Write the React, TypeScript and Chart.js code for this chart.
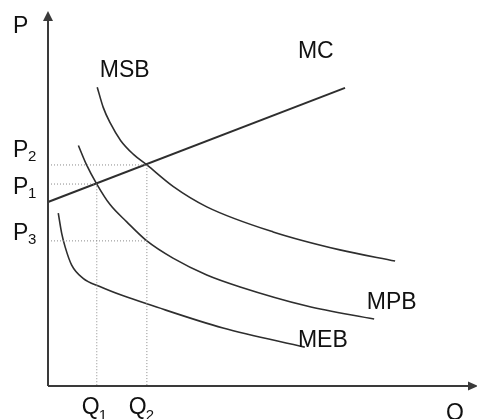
import React, { useEffect, useRef } from "react";
import { Chart, registerables } from "chart.js";

Chart.register(...registerables);

// Quantity (x) and price (y) in chart units (0..100 on both axes)
const MC_Q = [0, 69.4];
const MC_P = [49.2, 79.7];

const MSB_Q = [11.5, 12.9, 14.5, 17.0, 19.9, 23.1, 29.3, 37.1, 52.6, 68.2, 81.1];
const MSB_P = [79.9, 74.5, 70.4, 65.6, 62.0, 59.1, 53.3, 47.9, 41.2, 36.4, 33.4];

const MPB_Q = [7.1, 8.9, 11.4, 14.5, 18.4, 23.1, 29.2, 37.1, 44.9, 60.5, 76.2];
const MPB_P = [64.3, 59.4, 54.0, 48.5, 43.9, 38.8, 34.2, 29.7, 26.5, 21.4, 17.9];

const MEB_Q = [2.4, 3.2, 4.0, 5.5, 8.2, 12.1, 17.6, 23.8, 40.9, 60.0];
const MEB_P = [46.2, 40.8, 37.2, 32.4, 28.8, 26.6, 24.1, 21.7, 15.5, 10.4];

// Equilibrium levels
const Q1 = 11.4;
const Q2 = 23.1;
const P1 = 54.0;
const P2 = 59.1;
const P3 = 38.8;

// Tick labels
const PRICE_TICK_VALUES = [P2, P1, P3];
const PRICE_TICK_SUBS = ["2", "1", "3"];
const QTY_TICK_VALUES = [Q1, Q2];
const QTY_TICK_SUBS = ["1", "2"];

// Curve labels
const CURVE_NAMES = ["MSB", "MC", "MPB", "MEB"];
const AXIS_NAMES = ["P", "Q"];

const pts = (xs: number[], ys: number[]) => xs.map((x, i) => ({ x, y: ys[i] }));

const FONT = '"Liberation Sans", Arial, sans-serif';

const annotations = {
  id: "econAnnotations",
  afterDatasetsDraw(chart: any, _args: any, opts: any) {
    const { ctx, chartArea } = chart;
    const xs = chart.scales.x;
    const ys = chart.scales.y;
    const { left, right, top, bottom } = chartArea;
    ctx.save();

    // axes
    ctx.strokeStyle = "#3a3a3a";
    ctx.fillStyle = "#3a3a3a";
    ctx.lineWidth = 2;
    ctx.beginPath();
    ctx.moveTo(left, bottom);
    ctx.lineTo(left, top + 6);
    ctx.moveTo(left, bottom);
    ctx.lineTo(right - 6, bottom);
    ctx.stroke();
    // arrows
    ctx.beginPath();
    ctx.moveTo(left, top - 1);
    ctx.lineTo(left - 5, top + 9);
    ctx.lineTo(left + 5, top + 9);
    ctx.closePath();
    ctx.fill();
    ctx.beginPath();
    ctx.moveTo(right + 2, bottom);
    ctx.lineTo(right - 8, bottom - 4.5);
    ctx.lineTo(right - 8, bottom + 4.5);
    ctx.closePath();
    ctx.fill();

    ctx.fillStyle = "#111";
    ctx.textAlign = "left";
    ctx.textBaseline = "alphabetic";
    const big = `23px ${FONT}`;
    const small = `15px ${FONT}`;

    // curve labels
    ctx.font = big;
    CURVE_NAMES.forEach((name, i) => {
      const a = opts.curveAnchors[i];
      ctx.fillText(name, xs.getPixelForValue(a[0]), ys.getPixelForValue(a[1]));
    });

    // axis names
    ctx.fillText(AXIS_NAMES[0], left - 35, top + 21);
    ctx.fillText(AXIS_NAMES[1], right - 30, bottom + 34);

    // price tick labels
    PRICE_TICK_VALUES.forEach((v, i) => {
      const y = ys.getPixelForValue(v) + opts.priceDy[i];
      ctx.font = big;
      ctx.fillText("P", left - 35, y);
      ctx.font = small;
      ctx.fillText(PRICE_TICK_SUBS[i], left - 20, y + 4);
    });

    // quantity tick labels
    QTY_TICK_VALUES.forEach((v, i) => {
      const x = xs.getPixelForValue(v) + opts.qtyDx[i];
      ctx.font = big;
      ctx.fillText("Q", x, bottom + 28);
      ctx.font = small;
      ctx.fillText(QTY_TICK_SUBS[i], x + 17, bottom + 34);
    });

    ctx.restore();
  },
};

export default function App() {
  const ref = useRef<HTMLCanvasElement | null>(null);

  useEffect(() => {
    if (!ref.current) return;
    const curve = (data: any, width = 1.6) => ({
      data,
      borderColor: "#2e2e2e",
      borderWidth: width,
      pointRadius: 0,
      cubicInterpolationMode: "monotone" as const,
      fill: false,
      clip: false as any,
    });
    const dotted = (data: any) => ({
      data,
      borderColor: "#8a8a8a",
      borderWidth: 1,
      borderDash: [1, 2],
      pointRadius: 0,
      tension: 0,
      fill: false,
    });

    const chart = new Chart(ref.current, {
      type: "line",
      data: {
        datasets: [
          dotted([{ x: 0, y: P2 }, { x: Q2, y: P2 }, { x: Q2, y: 0 }]),
          dotted([{ x: 0, y: P1 }, { x: Q1, y: P1 }, { x: Q1, y: 0 }]),
          dotted([{ x: 0, y: P3 }, { x: Q2, y: P3 }]),
          curve(pts(MC_Q, MC_P), 2),
          curve(pts(MSB_Q, MSB_P)),
          curve(pts(MPB_Q, MPB_P)),
          curve(pts(MEB_Q, MEB_P)),
        ] as any,
      },
      options: {
        responsive: false,
        animation: false,
        devicePixelRatio: 1,
        layout: { padding: { left: 48, top: 12, right: 1, bottom: 33 } },
        scales: {
          x: { type: "linear", min: 0, max: 100, display: false },
          y: { type: "linear", min: 0, max: 100, display: false },
        },
        plugins: {
          legend: { display: false },
          tooltip: { enabled: false },
          econAnnotations: {
            curveAnchors: [
              [12.1, 82.6],
              [58.4, 87.7],
              [74.5, 20.6],
              [58.4, 10.4],
            ],
            priceDy: [-8, 10, -1],
            qtyDx: [-15, -18],
          },
        } as any,
      },
      plugins: [annotations],
    });
    return () => chart.destroy();
  }, []);

  return (
    <div style={{ position: "absolute", left: 0, top: 0, width: 477, height: 419, background: "#fff" }}>
      <canvas ref={ref} width={477} height={419} style={{ width: 477, height: 419 }} />
    </div>
  );
}
